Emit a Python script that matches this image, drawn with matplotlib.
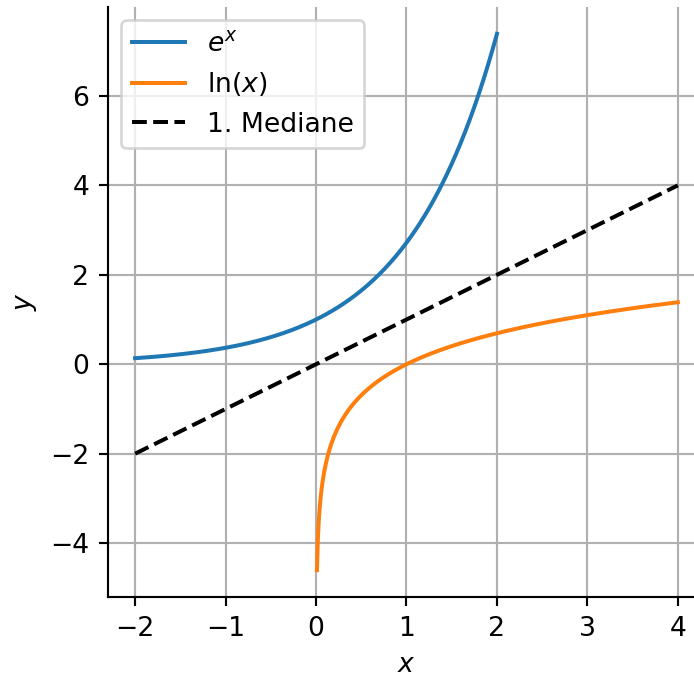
import numpy as np
import matplotlib.pyplot as plt

# Wertebereiche der Funktionen
x_exp = np.linspace(-2, 2, 400)
x_ln = np.linspace(0.01, 4, 400)
x_med = [-2, 4]
y_med = [-2, 4]

y_exp = np.exp(x_exp)
y_ln = np.log(x_ln)

dpi = 192
fig = plt.figure(figsize=(694 / dpi, 675 / dpi), dpi=dpi)
ax = fig.add_axes([108 / 694, 78 / 675, 597 / 694, 590 / 675])

ax.plot(x_exp, y_exp, label="$e^x$")
ax.plot(x_ln, y_ln, label="$\\ln(x)$")
ax.plot(x_med, y_med, "k--", label="1. Mediane")

ax.spines["top"].set_visible(False)
ax.spines["right"].set_visible(False)
ax.set_xlabel("$x$")
ax.set_ylabel("$y$")
ax.grid(True)
ax.legend(loc="upper left")

fig.savefig("out.png", dpi=dpi)
